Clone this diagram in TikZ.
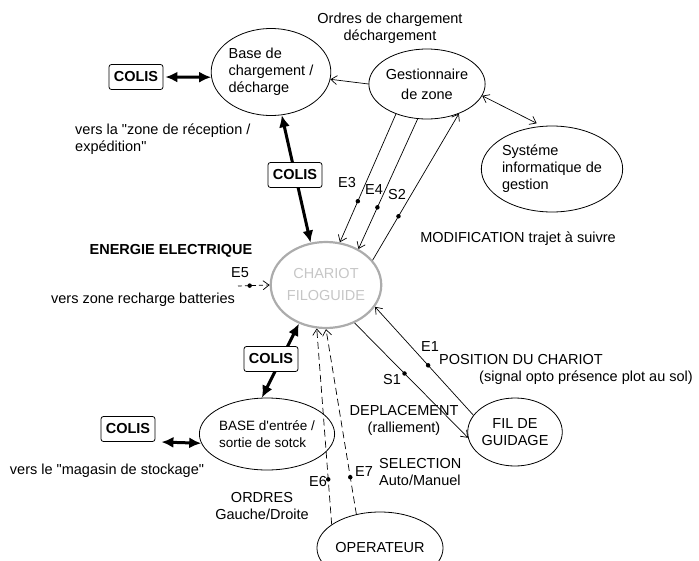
\documentclass[tikz,border=0pt]{standalone}
\usepackage{fontspec}
\setmainfont{Liberation Sans}[Ligatures=TeXOff]
\usepackage{tikz}
\usetikzlibrary{shapes.geometric, arrows.meta}

\begin{document}
\begin{tikzpicture}[
    x=1pt, y=-1pt,
    every node/.style={font=\fontsize{14.5}{17}\selectfont},
    bulle/.style={ellipse, draw, line width=0.8pt, align=center, inner sep=0pt},
    chariot/.style={ellipse, draw=gray!65, line width=2.2pt, align=center, inner sep=0pt, text=gray!45},
    colis/.style={rectangle, draw, rounded corners=2.5pt, line width=0.8pt, fill=white, minimum width=54pt, minimum height=25pt, inner sep=0pt, font=\fontsize{14.5}{17}\selectfont\bfseries},
    txt/.style={align=center, inner sep=0pt},
    puce/.style={circle, fill, inner sep=0pt, minimum size=4.5pt},
    arr/.style={-{Straight Barb[length=6pt,width=9pt]}, line width=0.7pt},
    darr/.style={{Straight Barb[length=6pt,width=9pt]}-{Straight Barb[length=6pt,width=9pt]}, line width=0.7pt},
    fat/.style={line width=3pt},
    >={Latex[length=12pt,width=11pt]}
]
\useasboundingbox (0,0) rectangle (699,560);

% Bulles
\node[bulle, minimum width=108pt, minimum height=87pt, align=left] (base) at (271,72) {Base de\\chargement /\\décharge};
\node[bulle, minimum width=103pt, minimum height=70pt] (gest) at (427,84) {Gestionnaire\\[3pt]de zone};
\node[bulle, minimum width=128pt, minimum height=86pt, align=left] (sys) at (552,169) {Systéme\\informatique de\\gestion};
\node[chariot, minimum width=102pt, minimum height=86pt] (chariot) at (326,285) {CHARIOT\\[5pt]FILOGUIDE};
\node[bulle, minimum width=90pt, minimum height=68pt] (fil) at (515,432) {FIL DE\\GUIDAGE};
\node[bulle, minimum width=110pt, minimum height=72pt, align=left, font=\fontsize{13.5}{17}\selectfont] (basest) at (267,434) {BASE d'entrée /\\sortie de sotck};
\node[bulle, minimum width=96pt, minimum height=72pt] (oper) at (380,548) {OPERATEUR};

% Colis
\node[colis] (colisA) at (136,77) {COLIS};
\node[colis] (colisD) at (128,429) {COLIS};

% Flux de colis
\draw[fat,<->] ([xshift=2pt]colisA.east) -- (base.185);
\draw[fat,<->] ([xshift=6pt,yshift=-13pt]colisD.east) -- (basest.188);
\draw[fat,<->] (base.284) -- (chariot.110);
\draw[fat,<->] (chariot.235) -- (basest.98);
\node[colis] (colisB) at (295,175) {COLIS};
\node[colis] (colisC) at (271,359) {COLIS};

% Informations
\draw[arr] (gest.180) -- (base.353);
\draw[darr, shorten >=6pt] (gest.348) -- (sys.103);
\draw[arr] (gest.224) -- node[puce, pos=0.68] (d3) {} (chariot.72);
\draw[arr] (gest.255) -- node[puce, pos=0.68] (d4) {} (chariot.48);
\draw[arr] (chariot.28) -- node[puce, pos=0.30] (ds2) {} (gest.317);
\draw[arr] (fil.158) -- node[puce, pos=0.46] (d1) {} (chariot.336);
\draw[arr] (chariot.307) -- node[puce, pos=0.44] (ds1) {} (fil.187);
\draw[arr, dash pattern=on 7pt off 4pt] (oper.154) -- node[puce, pos=0.23] (d6) {} (chariot.258);
\draw[arr, dash pattern=on 7pt off 4pt] (oper.125) -- node[puce, pos=0.2] (d7) {} (chariot.270);
\coordinate (e5) at (238,286);
\draw[arr, dash pattern=on 4pt off 3pt] (e5) -- node[puce, pos=0.37] (d5) {} (chariot.180);

% Etiquettes
\node[txt] (lE3) at (347,183) {E3};
\node[txt] (lE4) at (374,190) {E4};
\node[txt] (lS2) at (397,195) {S2};
\node[txt] (lE5) at (240,273) {E5};
\node[txt] (lE1) at (430,347) {E1};
\node[txt] (lS1) at (392,380) {S1};
\node[txt] (lE6) at (318,482) {E6};
\node[txt] (lE7) at (364,472) {E7};

\node[txt] (ordres) at (390,28) {Ordres de chargement\\déchargement};
\node[txt] (modif) at (518,239) {MODIFICATION trajet à suivre};
\node[txt, font=\fontsize{14.5}{17}\selectfont\bfseries] (energie) at (171,251) {ENERGIE ELECTRIQUE};
\node[txt] (recharge) at (143,300) {vers zone recharge batteries};
\node[txt, align=left, anchor=west] (recep) at (75,139.5) {vers la "zone de réception /\\expédition"};
\node[txt] (position) at (521,360) {POSITION DU CHARIOT};
\node[txt] (signal) at (586,378) {(signal opto présence plot au sol)};
\node[txt] (deplac) at (404,420) {DEPLACEMENT\\(ralliement)};
\node[txt, align=left, anchor=west] (select) at (379,472.5) {SELECTION\\Auto/Manuel};
\node[txt] (ordresgd) at (262,506.5) {ORDRES\\Gauche/Droite};
\node[txt] (magasin) at (107,471) {vers le "magasin de stockage"};

\end{tikzpicture}
\end{document}
